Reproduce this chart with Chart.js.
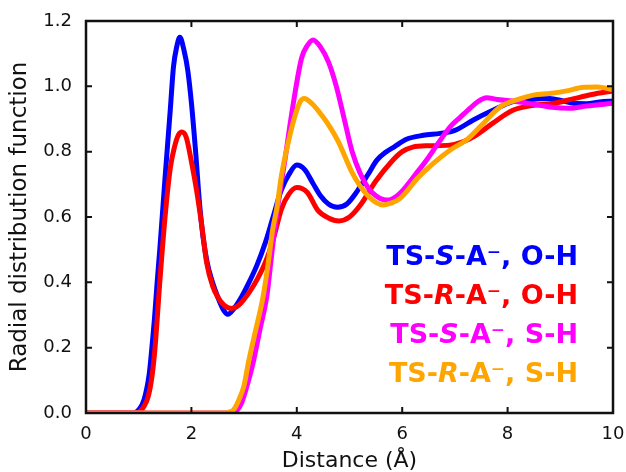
<!DOCTYPE html>
<html>
<head>
<meta charset="utf-8">
<script src="https://cdn.jsdelivr.net/npm/chart.js@4"></script>
<style>
  html, body { margin: 0; padding: 0; background: #fff; }
  #rdf { display: block; }
</style>
</head>
<body>
<canvas id="rdf" width="626" height="472"></canvas>
<script>
// Radial distribution functions, distance in angstrom
const blueR = [0, 0.9, 1.0, 1.1, 1.2, 1.25, 1.3, 1.35, 1.4, 1.5, 1.6, 1.66, 1.72, 1.78, 1.86, 1.93, 2.0, 2.08, 2.15, 2.22, 2.3, 2.4, 2.5, 2.6, 2.69, 2.8, 2.95, 3.11, 3.25, 3.4, 3.55, 3.7, 3.85, 4.0, 4.15, 4.3, 4.45, 4.6, 4.77, 4.95, 5.15, 5.35, 5.52, 5.7, 5.85, 6.08, 6.4, 6.72, 7.0, 7.35, 7.7, 8.1, 8.45, 8.8, 9.05, 9.25, 9.5, 9.75, 10];
const blueG = [0, 0, 0.01, 0.04, 0.12, 0.2, 0.29, 0.40, 0.50, 0.72, 0.93, 1.06, 1.12, 1.15, 1.11, 1.05, 0.95, 0.80, 0.65, 0.54, 0.46, 0.40, 0.355, 0.318, 0.302, 0.318, 0.355, 0.405, 0.455, 0.52, 0.60, 0.68, 0.73, 0.759, 0.745, 0.705, 0.665, 0.64, 0.63, 0.64, 0.68, 0.73, 0.774, 0.80, 0.815, 0.838, 0.85, 0.856, 0.865, 0.897, 0.925, 0.953, 0.96, 0.963, 0.955, 0.948, 0.947, 0.952, 0.955];

const redR = [0, 0.95, 1.02, 1.1, 1.18, 1.25, 1.31, 1.4, 1.5, 1.6, 1.68, 1.75, 1.82, 1.9, 2.0, 2.1, 2.2, 2.29, 2.4, 2.5, 2.62, 2.76, 2.9, 3.1, 3.25, 3.4, 3.55, 3.71, 3.85, 4.0, 4.2, 4.4, 4.6, 4.8, 5.0, 5.2, 5.5, 5.8, 6.0, 6.2, 6.5, 6.9, 7.15, 7.4, 7.7, 8.1, 8.5, 8.87, 9.2, 9.6, 10];
const redG = [0, 0, 0.005, 0.02, 0.05, 0.11, 0.2, 0.40, 0.60, 0.75, 0.815, 0.85, 0.86, 0.845, 0.77, 0.68, 0.57, 0.46, 0.39, 0.355, 0.33, 0.32, 0.33, 0.37, 0.41, 0.46, 0.53, 0.625, 0.67, 0.69, 0.675, 0.62, 0.597, 0.588, 0.60, 0.635, 0.71, 0.77, 0.80, 0.814, 0.818, 0.82, 0.83, 0.85, 0.885, 0.927, 0.942, 0.948, 0.96, 0.975, 0.986];

const magR = [0, 2.75, 2.85, 2.95, 3.05, 3.17, 3.3, 3.43, 3.52, 3.59, 3.68, 3.78, 3.87, 3.97, 4.09, 4.2, 4.31, 4.45, 4.6, 4.75, 4.9, 5.05, 5.2, 5.35, 5.5, 5.65, 5.75, 5.88, 6.02, 6.25, 6.46, 6.7, 6.91, 7.1, 7.3, 7.45, 7.6, 7.8, 8.1, 8.5, 8.8, 9.18, 9.5, 10];
const magG = [0, 0, 0.005, 0.03, 0.08, 0.153, 0.255, 0.356, 0.48, 0.575, 0.677, 0.78, 0.881, 0.984, 1.086, 1.125, 1.142, 1.12, 1.075, 1.0, 0.9, 0.8, 0.735, 0.69, 0.665, 0.653, 0.652, 0.662, 0.683, 0.73, 0.774, 0.83, 0.876, 0.905, 0.935, 0.955, 0.965, 0.96, 0.955, 0.945, 0.937, 0.933, 0.94, 0.948];

const oraR = [0, 2.6, 2.72, 2.8, 2.9, 3.0, 3.08, 3.2, 3.36, 3.45, 3.54, 3.62, 3.71, 3.84, 3.97, 4.06, 4.14, 4.3, 4.47, 4.63, 4.79, 5.04, 5.2, 5.35, 5.5, 5.64, 5.8, 5.96, 6.3, 6.59, 6.91, 7.22, 7.5, 7.86, 8.2, 8.49, 8.8, 9.12, 9.44, 9.7, 10];
const oraG = [0, 0, 0.003, 0.01, 0.04, 0.085, 0.153, 0.24, 0.356, 0.45, 0.56, 0.626, 0.728, 0.83, 0.912, 0.952, 0.963, 0.945, 0.912, 0.875, 0.83, 0.739, 0.695, 0.665, 0.645, 0.637, 0.643, 0.657, 0.72, 0.764, 0.805, 0.836, 0.88, 0.937, 0.96, 0.973, 0.978, 0.986, 0.997, 0.998, 0.99];

// label text; character 3 is the stereo descriptor, set in italics
const seriesNames = ['TS-S-A\u207B, O-H', 'TS-R-A\u207B, O-H', 'TS-S-A\u207B, S-H', 'TS-R-A\u207B, S-H'];
const seriesColors = ['#0000ff', '#ff0000', '#ff00ff', '#ffa500'];

const xTicks = [0, 2, 4, 6, 8, 10];
const yTicks = [0, 0.2, 0.4, 0.6, 0.8, 1.0, 1.2];

function toPoints(rs, gs) {
    return rs.map((r, i) => ({ x: r, y: gs[i] }));
}

const seriesData = [toPoints(blueR, blueG), toPoints(redR, redG), toPoints(magR, magG), toPoints(oraR, oraG)];

// frame with inward ticks on all four sides
const framePlugin = {
    id: 'frame',
    afterDatasetsDraw(chart) {
        const { ctx, chartArea: a, scales } = chart;
        ctx.save();
        ctx.strokeStyle = '#111';
        ctx.lineWidth = 2;
        const len = 6;
        ctx.beginPath();
        xTicks.slice(1, -1).forEach(v => {
            const px = scales.x.getPixelForValue(v);
            ctx.moveTo(px, a.bottom); ctx.lineTo(px, a.bottom - len);
            ctx.moveTo(px, a.top); ctx.lineTo(px, a.top + len);
        });
        yTicks.slice(1, -1).forEach(v => {
            const py = scales.y.getPixelForValue(v);
            ctx.moveTo(a.left, py); ctx.lineTo(a.left + len, py);
            ctx.moveTo(a.right, py); ctx.lineTo(a.right - len, py);
        });
        ctx.stroke();
        ctx.lineWidth = 2.5;
        ctx.strokeRect(a.left, a.top, a.right - a.left, a.bottom - a.top);
        ctx.restore();
    }
};

// coloured series names, right aligned inside the plot
const namesPlugin = {
    id: 'names',
    afterDraw(chart) {
        const { ctx } = chart;
        const upright = 'bold 27px "DejaVu Sans"';
        const slanted = 'italic bold 27px "DejaVu Sans"';
        const rightEdge = 578;
        const baselines = [265, 304, 343, 382];
        ctx.save();
        ctx.textBaseline = 'alphabetic';
        ctx.textAlign = 'left';
        seriesNames.forEach((name, i) => {
            const parts = [
                { t: name.slice(0, 3), f: upright },
                { t: name.charAt(3), f: slanted },
                { t: name.slice(4), f: upright }
            ];
            let total = 0;
            parts.forEach(p => { ctx.font = p.f; p.w = ctx.measureText(p.t).width; total += p.w; });
            let x = rightEdge - total;
            ctx.fillStyle = seriesColors[i];
            parts.forEach(p => {
                ctx.font = p.f;
                ctx.fillText(p.t, x, baselines[i]);
                x += p.w;
            });
        });
        ctx.restore();
    }
};

const ctx = document.getElementById('rdf').getContext('2d');

new Chart(ctx, {
    type: 'line',
    data: {
        datasets: seriesData.map((pts, i) => ({
            label: seriesNames[i],
            data: pts,
            borderColor: seriesColors[i],
            backgroundColor: seriesColors[i],
            borderWidth: 5,
            pointRadius: 0,
            fill: false,
            cubicInterpolationMode: 'monotone',
            order: 4 - i
        }))
    },
    options: {
        responsive: false,
        animation: false,
        layout: { padding: { top: 21, right: 13, left: 0, bottom: 0 } },
        plugins: {
            legend: { display: false },
            tooltip: { enabled: false }
        },
        scales: {
            x: {
                type: 'linear',
                min: 0,
                max: 10,
                afterFit: s => { s.height = 59; s.paddingLeft = 0; s.paddingRight = 0; },
                afterBuildTicks: s => { s.ticks = xTicks.map(v => ({ value: v })); },
                grid: { display: false, drawTicks: false },
                border: { display: false },
                ticks: {
                    color: '#111',
                    font: { family: 'DejaVu Sans', size: 18 },
                    padding: 11,
                    maxRotation: 0
                },
                title: {
                    display: true,
                    text: 'Distance (Å)',
                    color: '#111',
                    font: { family: 'DejaVu Sans', size: 22 },
                    padding: { top: 0, bottom: -2 }
                }
            },
            y: {
                min: 0,
                max: 1.2,
                afterFit: s => { s.width = 86; s.paddingTop = 0; s.paddingBottom = 0; },
                afterBuildTicks: s => { s.ticks = yTicks.map(v => ({ value: v })); },
                grid: { display: false, drawTicks: false },
                border: { display: false },
                ticks: {
                    color: '#111',
                    font: { family: 'DejaVu Sans', size: 18 },
                    padding: 14,
                    callback: v => v.toFixed(1)
                },
                title: {
                    display: true,
                    text: 'Radial distribution function',
                    color: '#111',
                    font: { family: 'DejaVu Sans', size: 23 },
                    padding: { top: 6, bottom: 0 }
                }
            }
        }
    },
    plugins: [framePlugin, namesPlugin]
});
</script>
</body>
</html>
